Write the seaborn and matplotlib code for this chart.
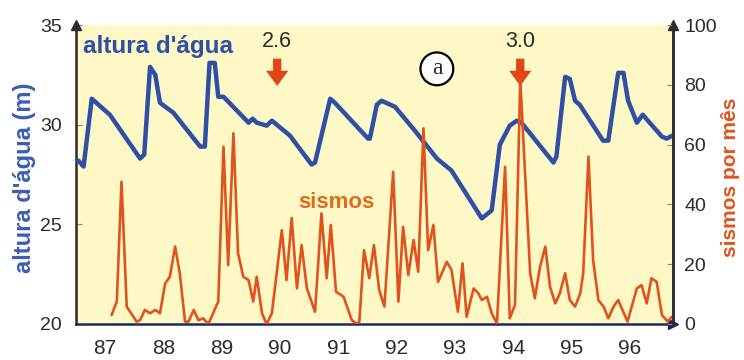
import seaborn as sns
import matplotlib.pyplot as plt

# altura d'água (m) - vertices
altura_anos = [1987.04, 1987.13, 1987.27, 1987.58, 1988.10, 1988.17, 1988.27, 1988.36,
               1988.44, 1988.67, 1989.13, 1989.21, 1989.29, 1989.38, 1989.44, 1989.53,
               1989.96, 1990.03, 1990.10, 1990.27, 1990.36, 1990.67, 1991.04, 1991.10,
               1991.36, 1991.44, 1992.01, 1992.04, 1992.16, 1992.24, 1992.47, 1992.84,
               1993.19, 1993.44, 1993.96, 1994.13, 1994.27, 1994.44, 1994.56, 1994.64,
               1995.19, 1995.24, 1995.39, 1995.47, 1995.56, 1995.64, 1996.04, 1996.13,
               1996.30, 1996.39, 1996.47, 1996.62, 1996.72, 1997.05, 1997.13, 1997.23]
altura_m = [28.2, 27.9, 31.3, 30.5, 28.3, 28.5, 32.9, 32.5,
            31.1, 30.6, 28.9, 28.9, 33.1, 33.1, 31.4, 31.4,
            30.1, 30.3, 30.1, 29.95, 30.2, 29.45, 28.0, 28.1,
            31.3, 31.1, 29.3, 29.3, 31.0, 31.2, 30.9, 29.6,
            28.3, 27.7, 25.3, 25.7, 29.0, 29.95, 30.2, 30.1,
            28.1, 28.4, 32.4, 32.3, 31.2, 31.0, 29.2, 29.2,
            32.6, 32.6, 31.2, 30.1, 30.5, 29.4, 29.3, 29.45]

# sismos por mês
sismos_anos = [1987.61, 1987.70, 1987.78, 1987.87, 1988.04, 1988.10, 1988.18, 1988.27,
               1988.36, 1988.44, 1988.53, 1988.61, 1988.70, 1988.78, 1988.87, 1988.93,
               1989.02, 1989.10, 1989.18, 1989.27, 1989.44, 1989.53, 1989.61, 1989.70,
               1989.78, 1989.87, 1989.96, 1990.04, 1990.10, 1990.19, 1990.27, 1990.36,
               1990.53, 1990.61, 1990.70, 1990.79, 1990.87, 1990.96, 1991.10, 1991.21,
               1991.30, 1991.37, 1991.46, 1991.59, 1991.73, 1991.82, 1991.86, 1991.94,
               1992.03, 1992.11, 1992.20, 1992.29, 1992.44, 1992.53, 1992.61, 1992.70,
               1992.79, 1992.87, 1992.96, 1993.04, 1993.13, 1993.21, 1993.36, 1993.44,
               1993.55, 1993.63, 1993.70, 1993.82, 1993.90, 1993.96, 1994.05, 1994.13,
               1994.22, 1994.36, 1994.44, 1994.53, 1994.62, 1994.79, 1994.87, 1994.96,
               1995.05, 1995.13, 1995.22, 1995.30, 1995.39, 1995.47, 1995.56, 1995.65,
               1995.70, 1995.79, 1995.87, 1995.96, 1996.05, 1996.13, 1996.22, 1996.30,
               1996.46, 1996.62, 1996.70, 1996.79, 1996.87, 1996.96, 1997.05, 1997.15,
               1997.22]
sismos_mes = [3.0, 7.5, 47.6, 5.8, 0.8, 1.3, 4.7, 3.6,
              4.7, 3.6, 13.6, 15.8, 25.9, 17.0, 0.8, 0.8,
              4.7, 1.3, 1.9, 0.0, 7.5, 59.3, 19.7, 63.8,
              23.6, 15.8, 14.7, 7.5, 15.8, 3.6, 0.0, 3.6,
              31.4, 14.7, 35.4, 11.9, 26.4, 11.9, 4.1, 37.0,
              15.3, 33.1, 10.8, 9.1, 1.3, 0.0, 0.8, 24.7,
              15.3, 26.4, 11.4, 5.8, 50.9, 7.5, 32.5, 16.4,
              28.1, 17.5, 65.4, 24.7, 33.1, 14.1, 20.8, 18.1,
              4.1, 20.3, 2.4, 11.9, 10.3, 8.0, 9.1, 3.6,
              0.2, 52.6, 1.9, 6.4, 82.0, 17.0, 8.6, 19.2,
              25.9, 12.5, 6.9, 10.3, 17.0, 8.0, 5.8, 10.3,
              17.0, 56.0, 21.4, 8.0, 5.8, 1.9, 5.8, 8.0,
              0.8, 11.9, 13.0, 6.9, 15.3, 14.1, 3.0, 0.8,
              2.4]

anos_rotulos = ['87', '88', '89', '90', '91', '92', '93', '94', '95', '96']

# terremotos marcados (magnitude, ano)
eventos_mag = ['2.6', '3.0']
eventos_ano = [1990.45, 1994.62]

azul = '#2f4ea6'
laranja = '#e0531c'
cinza = '#2b2b2b'

sns.set_style('white')
plt.rcParams['font.family'] = ['Liberation Sans', 'DejaVu Sans']

fig = plt.figure(figsize=(7.44, 3.6), dpi=100)
ax = fig.add_axes([76 / 744, 36 / 360, 597 / 744, 299 / 360])
ax.set_facecolor('#fdf8c6')

sns.lineplot(x=altura_anos, y=altura_m, ax=ax, color=azul, linewidth=3.2, zorder=3)
ax.set_xlim(1987.0, 1997.24)
ax.set_ylim(20, 35)
ax.set_yticks([20, 25, 30, 35])

ax2 = ax.twinx()
sns.lineplot(x=sismos_anos, y=sismos_mes, ax=ax2, color=laranja, linewidth=1.9)
ax2.set_ylim(0, 100)
ax2.set_yticks([0, 20, 40, 60, 80, 100])

# eixo x: traços nos limites dos anos, rótulos no meio
ax.set_xticks(range(1987, 1998))
ax.set_xticklabels([])
ax.set_xticks([a + 0.5 for a in range(1987, 1997)], minor=True)
ax.set_xticklabels(anos_rotulos, minor=True)
ax.tick_params(axis='x', which='major', direction='out', length=7, width=1.2, color=cinza)
ax.tick_params(axis='x', which='minor', length=0, pad=11, labelsize=15, labelcolor=cinza)
ax.tick_params(axis='y', direction='in', length=4, width=0.8, color='#888888',
               pad=10, labelsize=14, labelcolor=cinza, left=True)
ax2.tick_params(axis='y', direction='in', length=4, width=0.8, color='#888888',
                pad=8, labelsize=14, labelcolor=cinza, right=True)

for a in (ax, ax2):
    a.spines['top'].set_visible(False)
    a.spines['left'].set_color(cinza)
    a.spines['right'].set_color(cinza)
    a.spines['bottom'].set_color('#1d2a5e')
    for s in ('left', 'right', 'bottom'):
        a.spines[s].set_linewidth(1.8)
    a.set_xlabel('')
ax2.spines['left'].set_visible(False)
ax2.spines['bottom'].set_visible(False)

# pontas de seta dos eixos
ax.plot([0], [1], marker='^', color=cinza, markersize=7, transform=ax.transAxes, clip_on=False)
ax.plot([1], [1], marker='^', color=cinza, markersize=7, transform=ax.transAxes, clip_on=False)
ax.plot([1], [0], marker='>', color='#1d2a5e', markersize=7, transform=ax.transAxes, clip_on=False)

ax.set_ylabel("altura d'água (m)", color='#3c5db5', fontsize=17, fontweight='bold')
ax.yaxis.set_label_coords(-0.067, 0.49)
ax2.set_ylabel('sismos por mês', color=laranja, fontsize=15, fontweight='bold')
ax2.yaxis.set_label_coords(1.08, 0.49)

ax.text(1987.12, 33.9, "altura d'água", color=azul, fontsize=17.5, fontweight='bold',
        ha='left', va='center')
ax2.text(1990.81, 40.5, 'sismos', color='#e06a1e', fontsize=16, fontweight='bold',
         ha='left', va='center')

for mag, ano in zip(eventos_mag, eventos_ano):
    ax.text(ano, 34.15, mag, color=cinza, fontsize=15.5, ha='center', va='center')
    ax.annotate('', xy=(ano, 31.8), xytext=(ano, 33.45),
                arrowprops=dict(arrowstyle='simple,head_width=1.6,head_length=1.1,tail_width=0.6',
                                color='#e0461a', lw=0), zorder=5)

ax.text(1993.19, 32.8, 'a', fontsize=17, ha='center', va='center', zorder=6,
        family=['Liberation Serif', 'DejaVu Serif'],
        bbox=dict(boxstyle='circle,pad=0.25', fc='white', ec='black', lw=1.6))

fig.savefig('out.png', dpi=100)
